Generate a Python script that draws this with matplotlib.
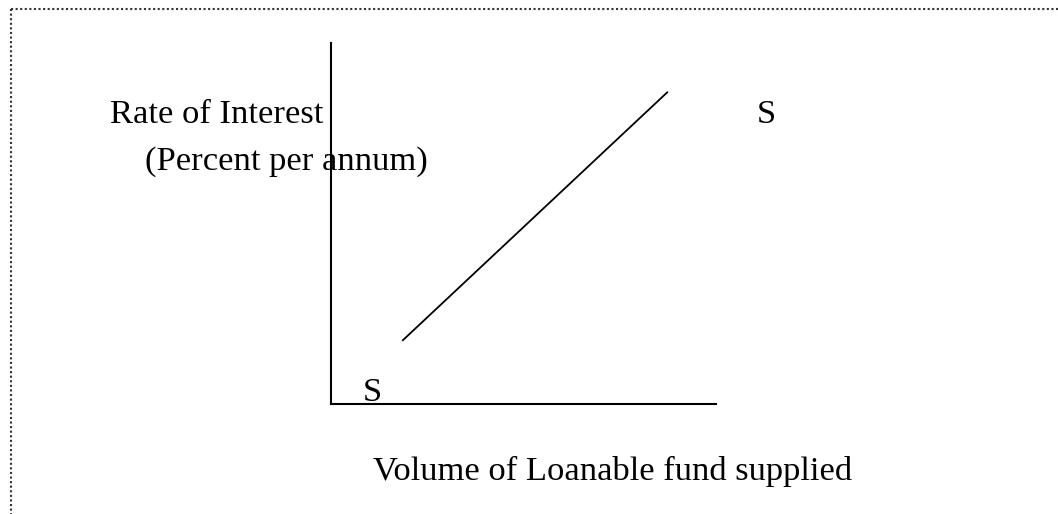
import matplotlib
matplotlib.use("Agg")
import matplotlib.pyplot as plt
from matplotlib.lines import Line2D

# Data (diagram units 0..10)
supply_quantity = [1.85, 8.75]
supply_rate = [1.75, 8.65]
y_label_lines = ["Rate of Interest", "(Percent per annum)"]
x_label = "Volume of Loanable fund supplied"
curve_label = "S"

W, H = 1058, 514
fig = plt.figure(figsize=(W / 100, H / 100), dpi=100)
fig.patch.set_facecolor("white")

def fx(px):
    return px / W

def fy(py):
    return 1 - py / H

ax = fig.add_axes([fx(331), fy(404), (716 - 331) / W, (404 - 43) / H])
ax.set_xlim(0, 10)
ax.set_ylim(0, 10)
for s in ("top", "right"):
    ax.spines[s].set_visible(False)
for s in ("left", "bottom"):
    ax.spines[s].set_linewidth(1.5)
    ax.spines[s].set_color("black")
ax.set_xticks([])
ax.set_yticks([])
ax.patch.set_alpha(0)

ax.plot(supply_quantity, supply_rate, color="black", lw=1.3, solid_capstyle="butt")

font = dict(family="Liberation Serif", size=24.8, color="black")
fig.text(fx(110), fy(123), y_label_lines[0], ha="left", va="baseline", **font)
fig.text(fx(145), fy(170), y_label_lines[1], ha="left", va="baseline", **font)
fig.text(fx(757), fy(123), curve_label, ha="left", va="baseline", **font)
fig.text(fx(363), fy(401), curve_label, ha="left", va="baseline", **font)
fig.text(fx(373), fy(480), x_label, ha="left", va="baseline", **font)

# dotted frame (top and left)
border_kw = dict(color="#333333", lw=1.5, linestyle=(0, (1, 1.2)), transform=fig.transFigure)
fig.add_artist(Line2D([fx(11), 1.0], [fy(9), fy(9)], **border_kw))
fig.add_artist(Line2D([fx(11), fx(11)], [fy(9), 0.0], **border_kw))

fig.savefig("out.png", dpi=100, facecolor="white")
